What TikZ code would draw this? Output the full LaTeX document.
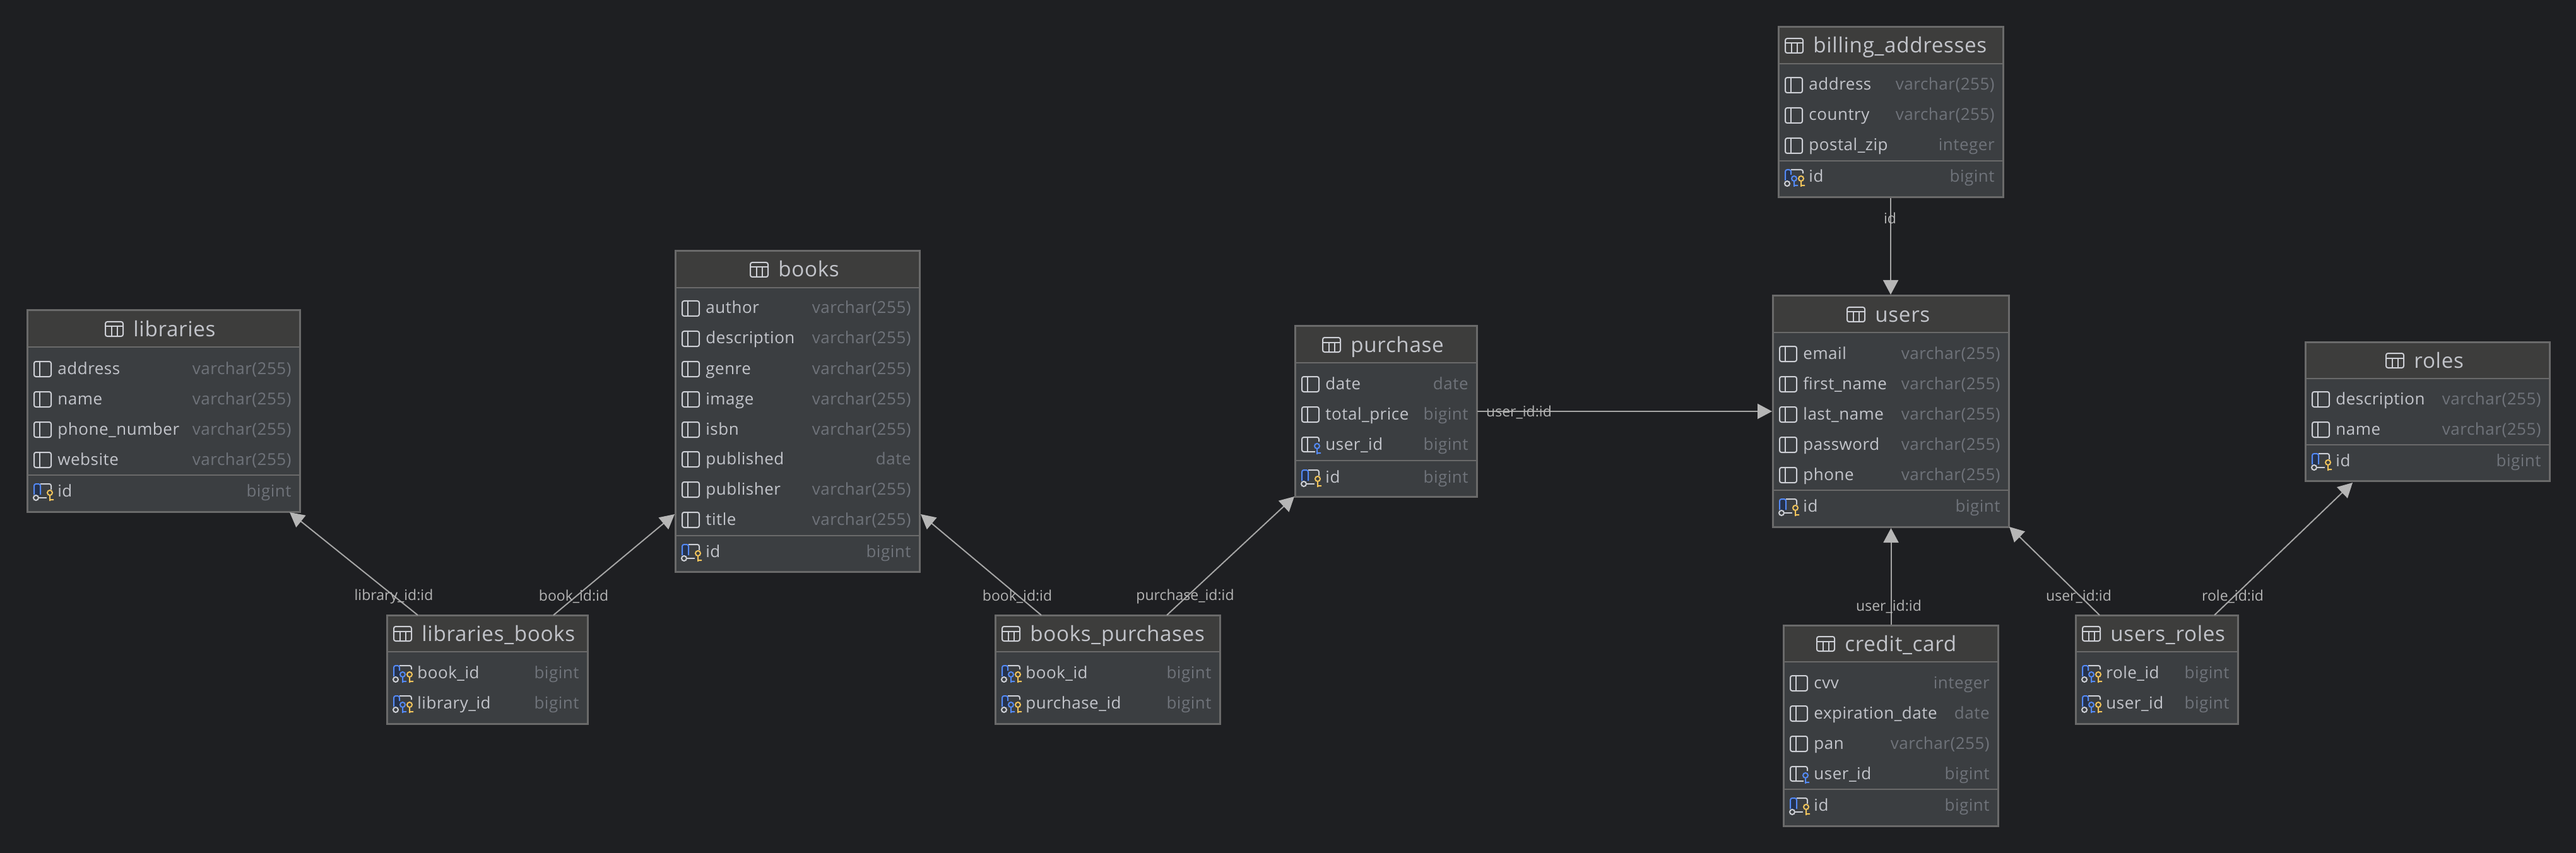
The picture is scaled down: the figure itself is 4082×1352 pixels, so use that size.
\documentclass[tikz,border=0pt]{standalone}
\usepackage{fontspec}
\usetikzlibrary{arrows.meta}
\setmainfont{Open Sans}
\newfontfamily\rowfont[LetterSpace=2]{Open Sans}
\definecolor{bgc}{HTML}{1E1F22}
\definecolor{headc}{HTML}{3D3D3C}
\definecolor{bodyc}{HTML}{3B3E41}
\definecolor{borderc}{HTML}{6A6A6A}
\definecolor{textc}{HTML}{C2C4CA}
\definecolor{typec}{HTML}{6F737A}
\definecolor{iconc}{HTML}{CED0D6}
\definecolor{bluec}{HTML}{548AF7}
\definecolor{darkblue}{HTML}{25324D}
\definecolor{yellowc}{HTML}{F2C55C}
\definecolor{linec}{HTML}{A5A5A5}
\definecolor{tipc}{HTML}{B6B6B6}
\definecolor{labelc}{HTML}{B4B4B4}
\tikzset{
  x=0.5pt,y=-0.5pt,
  tablebody/.style={draw=borderc,fill=bodyc,line width=1.5pt,inner sep=0pt,rectangle},
  sepline/.style={draw=borderc,line width=1.2pt},
  iconline/.style={line width=1pt,rounded corners=1.5pt},
  titletext/.style={anchor=base west,inner sep=0pt,text=textc,font=\rowfont\fontsize{16.6}{20}\selectfont},
  rowtext/.style={anchor=base west,inner sep=0pt,text=textc,font=\rowfont\fontsize{13}{16}\selectfont},
  typetext/.style={anchor=base east,inner sep=0pt,text=typec,font=\rowfont\fontsize{13}{16}\selectfont},
  linktext/.style={inner sep=0pt,text=labelc,font=\fontsize{11.5}{14}\selectfont},
  link/.style={draw=linec,line width=1pt,-{Triangle[length=11.5pt,width=12pt,color=tipc]}},
}
\newcommand\tableicon[2]{\begin{scope}[shift={({#1},{#2})}]
  \draw[iconc,iconline] (0,-11.5) rectangle (28,11.5);
  \draw[iconc,line width=1pt] (0,-4)--(28,-4) (9.5,-4)--(9.5,11.5) (18.5,-4)--(18.5,11.5);
\end{scope}}
\newcommand\keyat[3]{\draw[#3,line width=1pt] (#1,#2) circle[radius=4] (#1,#2+4)--(#1,#2+13) (#1,#2+11)--(#1+6,#2+11);}
\newcommand\icol[2]{\begin{scope}[shift={({#1},{#2})}]
  \draw[iconc,iconline] (0,-12) rectangle (27,12);
  \draw[iconc,line width=1pt] (9,-12)--(9,12);
\end{scope}}
\newcommand\ifk[2]{\begin{scope}[shift={({#1},{#2})}]
  \draw[iconc,iconline] (21,11)--(0,11)--(0,-12)--(27,-12)--(27,-5);
  \draw[iconc,line width=1pt] (9,-12)--(9,11);
  \keyat{24}{2}{bluec}
\end{scope}}
\newcommand\ipk[2]{\begin{scope}[shift={({#1},{#2})}]
  \fill[darkblue] (0,-12) rectangle (10,6);
  \draw[iconc,iconline] (10,-12)--(27,-12)--(27,-3);
  \draw[iconc,line width=1pt] (8,10)--(20,10);
  \draw[bluec,iconline] (0,5)--(0,-12)--(10,-12)--(10,5);
  \draw[iconc,line width=1pt] (3,10) circle[radius=4];
  \keyat{25}{2}{yellowc}
\end{scope}}
\newcommand\ipkfk[2]{\begin{scope}[shift={({#1},{#2})}]
  \fill[darkblue] (0,-12) rectangle (9,6);
  \draw[iconc,iconline] (9,-12)--(28,-12)--(28,-6);
  \draw[bluec,iconline] (0,5)--(0,-12)--(9,-12)--(9,-4);
  \draw[iconc,line width=1pt] (3,10) circle[radius=4];
  \keyat{14}{2}{bluec}
  \keyat{25}{2}{yellowc}
\end{scope}}
% id, title, L, T, R, B, icon x
\newcommand\dbtable[7]{%
  \def\tL{#3}\def\tR{#5}%
  \node[tablebody,minimum width={(#5-#3)*0.5pt},minimum height={(#6-#4)*0.5pt}] (#1) at ({(#3+#5)/2},{(#4+#6)/2}) {};
  \fill[headc] (#3+1.5,#4+1.5) rectangle (#5-1.5,#4+58);
  \draw[sepline] (#3,#4+58) -- (#5,#4+58);
  \tableicon{#7}{#4+29.5}
  \node[titletext] (#1-title) at (#7+44,#4+41) {#2};
}
\newcommand\dbrow[5]{%
  #3{\tL+11}{#2}
  \node[rowtext] (#1) at (\tL+48,#2+8) {#4};
  \node[typetext] (#1-type) at (\tR-13,#2+8) {#5};
}
\newcommand\dbsep[1]{\draw[sepline] (\tL,#1) -- (\tR,#1);}
\begin{document}
\begin{tikzpicture}
\useasboundingbox (0,0) rectangle (4082,1352);
\fill[bgc] (0,0) rectangle (4082,1352);

% libraries
\dbtable{libraries}{libraries}{43}{492}{475}{811}{167}
\dbrow{lib-address}{585}{\icol}{address}{varchar(255)}
\dbrow{lib-name}{633}{\icol}{name}{varchar(255)}
\dbrow{lib-phone}{681}{\icol}{phone\_number}{varchar(255)}
\dbrow{lib-website}{729}{\icol}{website}{varchar(255)}
\dbsep{753}
\dbrow{lib-id}{779}{\ipk}{id}{bigint}

% books
\dbtable{books}{books}{1070}{398}{1457}{906}{1189}
\dbrow{bk-author}{489}{\icol}{author}{varchar(255)}
\dbrow{bk-description}{537}{\icol}{description}{varchar(255)}
\dbrow{bk-genre}{585}{\icol}{genre}{varchar(255)}
\dbrow{bk-image}{633}{\icol}{image}{varchar(255)}
\dbrow{bk-isbn}{681}{\icol}{isbn}{varchar(255)}
\dbrow{bk-published}{728}{\icol}{published}{date}
\dbrow{bk-publisher}{776}{\icol}{publisher}{varchar(255)}
\dbrow{bk-title}{824}{\icol}{title}{varchar(255)}
\dbsep{849}
\dbrow{bk-id}{875}{\ipk}{id}{bigint}

% purchase
\dbtable{purchase}{purchase}{2052}{517}{2340}{787}{2096}
\dbrow{pu-date}{609}{\icol}{date}{date}
\dbrow{pu-total}{657}{\icol}{total\_price}{bigint}
\dbrow{pu-user}{705}{\ifk}{user\_id}{bigint}
\dbsep{730}
\dbrow{pu-id}{757}{\ipk}{id}{bigint}

% billing_addresses
\dbtable{billing}{billing\_addresses}{2818}{43}{3174}{313}{2829}
\dbrow{bi-address}{135}{\icol}{address}{varchar(255)}
\dbrow{bi-country}{183}{\icol}{country}{varchar(255)}
\dbrow{bi-zip}{231}{\icol}{postal\_zip}{integer}
\dbsep{255}
\dbrow{bi-id}{281}{\ipkfk}{id}{bigint}

% users
\dbtable{users}{users}{2809}{469}{3183}{835}{2927}
\dbrow{us-email}{561}{\icol}{email}{varchar(255)}
\dbrow{us-first}{609}{\icol}{first\_name}{varchar(255)}
\dbrow{us-last}{657}{\icol}{last\_name}{varchar(255)}
\dbrow{us-password}{705}{\icol}{password}{varchar(255)}
\dbrow{us-phone}{753}{\icol}{phone}{varchar(255)}
\dbsep{777}
\dbrow{us-id}{803}{\ipk}{id}{bigint}

% roles
\dbtable{roles}{roles}{3653}{542}{4040}{762}{3781}
\dbrow{ro-description}{633}{\icol}{description}{varchar(255)}
\dbrow{ro-name}{681}{\icol}{name}{varchar(255)}
\dbsep{705}
\dbrow{ro-id}{731}{\ipk}{id}{bigint}

% libraries_books
\dbtable{libbooks}{libraries\_books}{613}{975}{931}{1147}{624}
\dbrow{lb-book}{1067}{\ipkfk}{book\_id}{bigint}
\dbrow{lb-library}{1115}{\ipkfk}{library\_id}{bigint}

% books_purchases
\dbtable{bookspur}{books\_purchases}{1577}{975}{1933}{1147}{1588}
\dbrow{bp-book}{1067}{\ipkfk}{book\_id}{bigint}
\dbrow{bp-purchase}{1115}{\ipkfk}{purchase\_id}{bigint}

% credit_card
\dbtable{credit}{credit\_card}{2826}{991}{3166}{1309}{2879}
\dbrow{cc-cvv}{1083}{\icol}{cvv}{integer}
\dbrow{cc-exp}{1131}{\icol}{expiration\_date}{date}
\dbrow{cc-pan}{1179}{\icol}{pan}{varchar(255)}
\dbrow{cc-user}{1227}{\ifk}{user\_id}{bigint}
\dbsep{1251}
\dbrow{cc-id}{1277}{\ipk}{id}{bigint}

% users_roles
\dbtable{usersroles}{users\_roles}{3289}{975}{3546}{1147}{3300}
\dbrow{ur-role}{1067}{\ipkfk}{role\_id}{bigint}
\dbrow{ur-user}{1115}{\ipkfk}{user\_id}{bigint}

% connector ends
\coordinate (lbA) at (662,975);   \coordinate (libT) at (459,812);
\coordinate (lbB) at (877,975);   \coordinate (bkL) at (1069,815);
\coordinate (bpA) at (1650,975);  \coordinate (bkR) at (1459,815);
\coordinate (bpB) at (1849,975);  \coordinate (puT) at (2051,787);
\coordinate (puR) at (2341,652);  \coordinate (usL) at (2808,652);
\coordinate (biB) at (2996,314);  \coordinate (usT) at (2996,467);
\coordinate (ccT) at (2996.5,990);\coordinate (usB) at (2996.5,837);
\coordinate (urA) at (3327,975);  \coordinate (usC) at (3184,835);
\coordinate (urB) at (3509,975);  \coordinate (roB) at (3728,765);

\draw[link] (lbA) -- (libT);
\draw[link] (lbB) -- (bkL);
\draw[link] (bpA) -- (bkR);
\draw[link] (bpB) -- (puT);
\draw[link] (puR) -- (usL);
\draw[link] (biB) -- (usT);
\draw[link] (ccT) -- (usB);
\draw[link] (urA) -- (usC);
\draw[link] (urB) -- (roB);

\node[linktext] (l1) at (624,946) {library\_id:id};
\node[linktext] (l2) at (909,946) {book\_id:id};
\node[linktext] (l3) at (1612,946) {book\_id:id};
\node[linktext] (l4) at (1878,946) {purchase\_id:id};
\node[linktext] (l5) at (2407,654) {user\_id:id};
\node[linktext] (l6) at (2995,346) {id};
\node[linktext] (l7) at (2993,962) {user\_id:id};
\node[linktext] (l8) at (3294,946) {user\_id:id};
\node[linktext] (l9) at (3538,946) {role\_id:id};
\end{tikzpicture}
\end{document}
